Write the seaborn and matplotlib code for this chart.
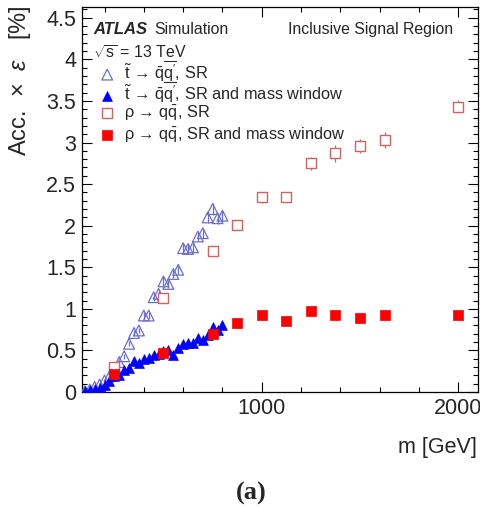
import matplotlib
matplotlib.use("Agg")
import matplotlib.pyplot as plt
import seaborn as sns
import pandas as pd
from matplotlib.legend import Legend
from matplotlib.ticker import MultipleLocator, FormatStrFormatter

# ---------------- data ----------------
stop_mass = [100, 125, 150, 175, 200, 225, 250, 275, 300, 325, 350, 375, 400, 425,
             450, 475, 500, 525, 550, 575, 600, 625, 650, 675, 700, 725, 750, 775, 800]
stop_sr = [0.01, 0.03, 0.06, 0.09, 0.14, 0.19, 0.27, 0.36, 0.43, 0.58, 0.71, 0.74, 0.92, 0.92,
           1.14, 1.18, 1.33, 1.30, 1.42, 1.47, 1.73, 1.72, 1.74, 1.87, 1.91, 2.10, 2.20, 2.09, 2.12]
stop_sr_err = [0.005, 0.01, 0.01, 0.015, 0.02, 0.02, 0.02, 0.03, 0.03, 0.03, 0.035, 0.035, 0.04, 0.04,
               0.045, 0.045, 0.05, 0.05, 0.05, 0.05, 0.055, 0.055, 0.055, 0.06, 0.06, 0.065, 0.07, 0.065, 0.065]
stop_win = [0.01, 0.02, 0.04, 0.05, 0.09, 0.13, 0.19, 0.21, 0.26, 0.29, 0.37, 0.35, 0.40, 0.41,
            0.44, 0.46, 0.49, 0.50, 0.45, 0.53, 0.58, 0.59, 0.59, 0.65, 0.62, 0.69, 0.78, 0.75, 0.81]
stop_win_err = [0.005, 0.005, 0.01, 0.01, 0.01, 0.015, 0.015, 0.015, 0.02, 0.02, 0.02, 0.02, 0.02, 0.02,
                0.02, 0.02, 0.025, 0.025, 0.025, 0.025, 0.025, 0.025, 0.025, 0.03, 0.03, 0.03, 0.03, 0.03, 0.03]

rho_mass = [250, 500, 750, 875, 1000, 1125, 1250, 1375, 1500, 1625, 2000]
rho_sr = [0.30, 1.13, 1.70, 2.01, 2.34, 2.34, 2.75, 2.87, 2.96, 3.03, 3.43]
rho_sr_err = [0.04, 0.04, 0.06, 0.05, 0.07, 0.06, 0.08, 0.10, 0.08, 0.10, 0.08]
rho_win = [0.22, 0.47, 0.70, 0.83, 0.92, 0.85, 0.97, 0.93, 0.89, 0.92, 0.92]
rho_win_err = [0.02, 0.02, 0.03, 0.03, 0.03, 0.02, 0.03, 0.04, 0.03, 0.04, 0.03]

labels = [r"$\tilde{\mathrm{t}}$ → $\bar{\mathrm{q}}\overline{\mathrm{q}'}$, SR",
          r"$\tilde{\mathrm{t}}$ → $\bar{\mathrm{q}}\overline{\mathrm{q}'}$, SR and mass window",
          r"ρ → q$\bar{\mathrm{q}}$, SR",
          r"ρ → q$\bar{\mathrm{q}}$, SR and mass window"]

c_stop_sr = "#6b6bd6"
c_stop_win = "#0000ff"
c_rho_sr = "#d06464"
c_rho_win = "#ff0000"

# ---------------- style ----------------
sns.set_theme(style="white")
plt.rcParams["font.family"] = ["Liberation Sans", "DejaVu Sans"]
plt.rcParams["mathtext.fontset"] = "custom"
plt.rcParams["mathtext.rm"] = "Liberation Sans"
plt.rcParams["mathtext.it"] = "Liberation Sans:italic"
plt.rcParams["mathtext.bf"] = "Liberation Sans:bold"

W, H = 481, 507
fig = plt.figure(figsize=(W / 100, H / 100), dpi=100)
ax = fig.add_axes([81.7 / W, 1 - 392 / H, (478 - 81.7) / W, (392 - 7) / H])

df_stop = pd.DataFrame({"m": stop_mass, "sr": stop_sr, "win": stop_win})
df_rho = pd.DataFrame({"m": rho_mass, "sr": rho_sr, "win": rho_win})

ax.errorbar(stop_mass, stop_sr, yerr=stop_sr_err, fmt="none", ecolor=c_stop_sr, elinewidth=0.9, zorder=2)
sns.scatterplot(data=df_stop, x="m", y="sr", ax=ax, marker="^", s=60, facecolor="none",
                edgecolor=c_stop_sr, linewidth=0.9, zorder=3)
ax.errorbar(stop_mass, stop_win, yerr=stop_win_err, fmt="none", ecolor=c_stop_win, elinewidth=0.9, zorder=4)
sns.scatterplot(data=df_stop, x="m", y="win", ax=ax, marker="^", s=50, color=c_stop_win,
                edgecolor=c_stop_win, linewidth=0.5, zorder=5)
ax.errorbar(rho_mass, rho_sr, yerr=rho_sr_err, fmt="none", ecolor=c_rho_sr, elinewidth=0.9, zorder=6)
sns.scatterplot(data=df_rho, x="m", y="sr", ax=ax, marker="s", s=48, facecolor="white",
                edgecolor=c_rho_sr, linewidth=1.0, zorder=7)
ax.errorbar(rho_mass, rho_win, yerr=rho_win_err, fmt="none", ecolor=c_rho_win, elinewidth=0.9, zorder=8)
sns.scatterplot(data=df_rho, x="m", y="win", ax=ax, marker="s", s=48, color=c_rho_win,
                edgecolor=c_rho_win, linewidth=0.5, zorder=9)

sc = [c for c in ax.collections if c.__class__.__name__ == "PathCollection"]

ax.set_xlim(84, 2100)
ax.set_ylim(0, 4.63)
ax.xaxis.set_major_locator(MultipleLocator(1000))
ax.xaxis.set_minor_locator(MultipleLocator(200))
ax.yaxis.set_major_locator(MultipleLocator(0.5))
ax.yaxis.set_minor_locator(MultipleLocator(0.1))
ax.yaxis.set_major_formatter(FormatStrFormatter("%g"))
ax.tick_params(which="both", direction="in", top=True, right=True, bottom=True, left=True,
               width=0.8, color="black", labelsize=15.5, pad=4)
ax.tick_params(which="major", length=7.5)
ax.tick_params(which="minor", length=3.8)
for s in ax.spines.values():
    s.set_color("black")
    s.set_linewidth(0.9)

ax.set_xlabel("")
ax.set_ylabel("")
fig.text(477 / W, 1 - 447 / H, "m [GeV]", ha="right", va="center", fontsize=15.5)
fig.text(20 / W, 1 - 5 / H, r"Acc.  ×  $\epsilon$   [%]", rotation=90, ha="center", va="top", fontsize=17)

fs = 11.4
fig.text(93 / W, 1 - 34 / H, "ATLAS", fontsize=12, fontweight="bold", fontstyle="italic", va="baseline")
fig.text(154 / W, 1 - 34 / H, "Simulation", fontsize=fs, va="baseline")
fig.text(453 / W, 1 - 34 / H, "Inclusive Signal Region", fontsize=fs, ha="right", va="baseline")
fig.text(93 / W, 1 - 59 / H, r"$\sqrt{\mathrm{s}}$ = 13 TeV", fontsize=fs, va="baseline")

row_y = [71, 92, 113, 135]
for h, lab, yc in zip(sc, labels, row_y):
    lg = Legend(ax, [h], [lab], loc="center left", bbox_to_anchor=(99 / W, 1 - yc / H),
                bbox_transform=fig.transFigure, frameon=False, fontsize=11.8, borderpad=0,
                borderaxespad=0, handlelength=1.0, handletextpad=0.55)
    ax.add_artist(lg)

fig.text(251 / W, 1 - 493 / H, "(a)", fontsize=19, fontweight="bold", family="Liberation Serif",
         ha="center", va="center")

fig.savefig("out.png", dpi=100)
